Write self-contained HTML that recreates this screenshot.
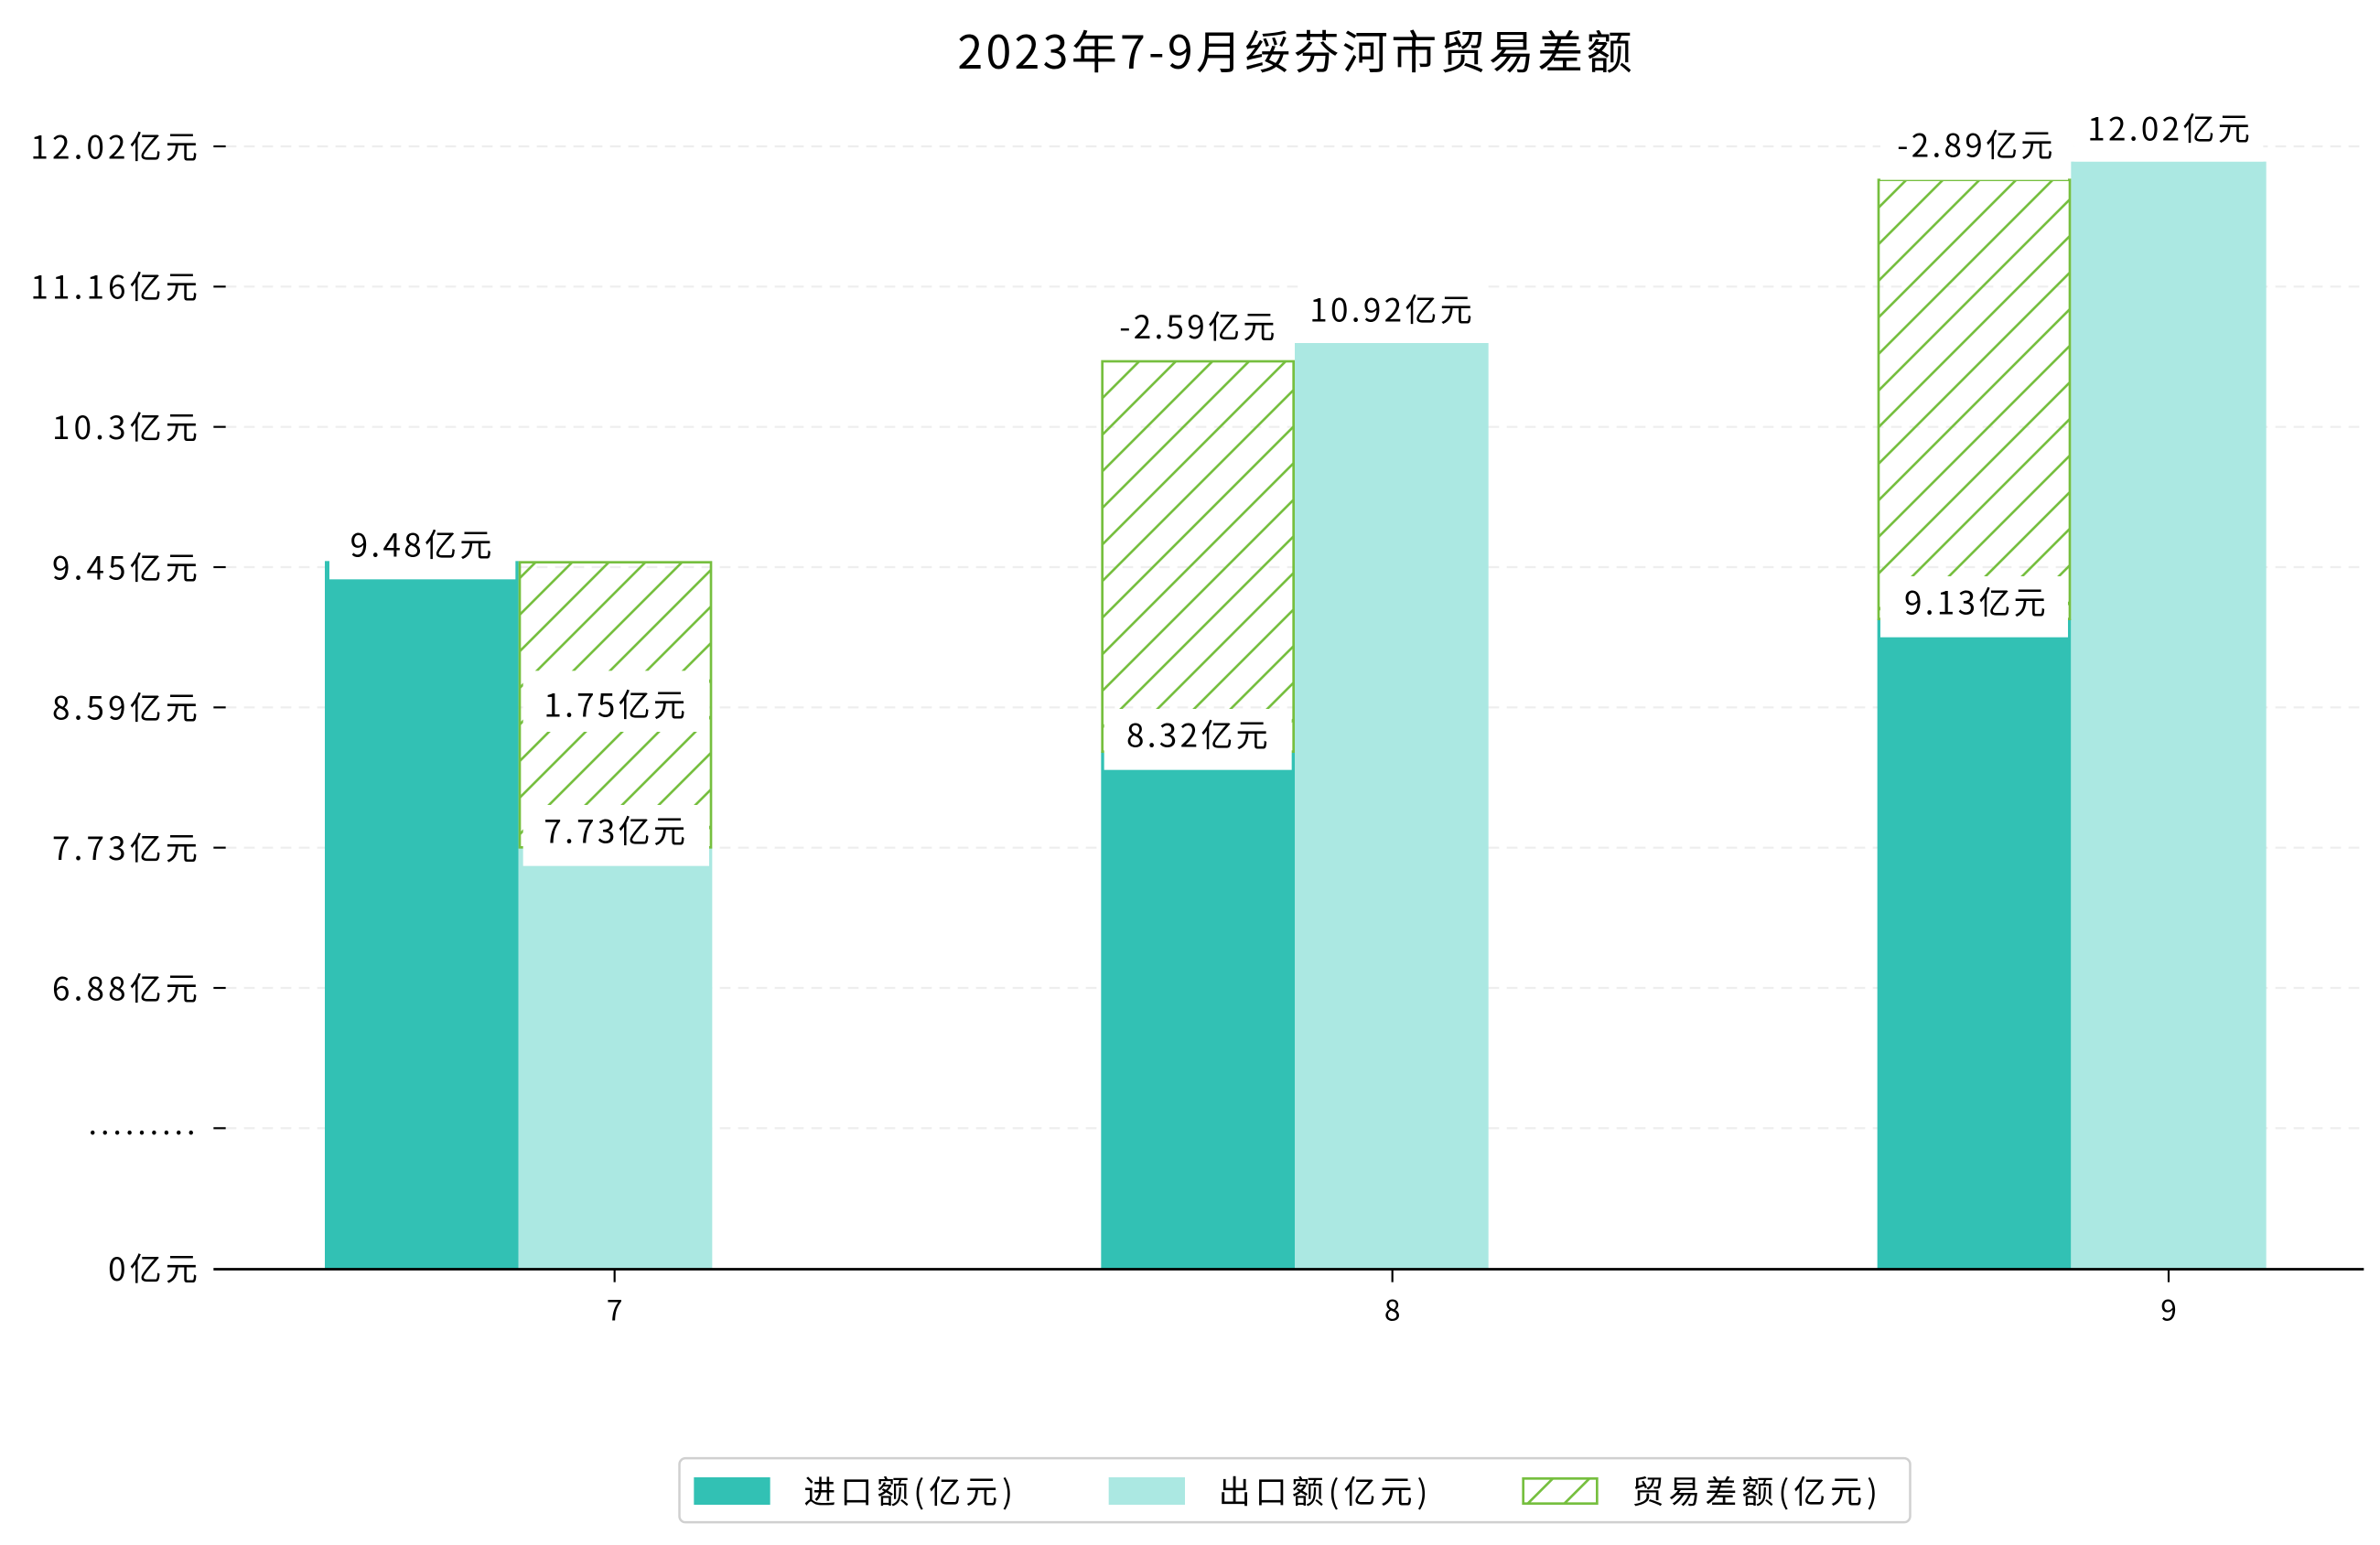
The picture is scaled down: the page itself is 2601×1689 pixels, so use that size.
<!DOCTYPE html>
<html><head><meta charset="utf-8"><style>
html,body{margin:0;padding:0;background:#fff}
svg{display:block}
text{font-family:"WenQuanYi Zen Hei","Noto Sans CJK SC",sans-serif;fill:#000}
</style></head><body>
<svg width="2601" height="1689" viewBox="0 0 1560.6 1013.4" xmlns="http://www.w3.org/2000/svg">
<defs>
<pattern id="h" patternUnits="userSpaceOnUse" width="24" height="24">
<path d="M-6,6 L6,-6 M0,24 L24,0 M18,30 L30,18" stroke="#76bf3f" stroke-width="1.6"/>
</pattern>
</defs>
<rect width="1560.6" height="1013.4" fill="#fff"/>
<text x="850" y="45" font-size="30" letter-spacing="2" text-anchor="middle">2023年7-9月绥芬河市贸易差额</text>
<g stroke="#eeeeee" stroke-width="1.3" stroke-dasharray="7,5">
<line x1="148" x2="1550" y1="96" y2="96"/><line x1="148" x2="1550" y1="188" y2="188"/>
<line x1="148" x2="1550" y1="280" y2="280"/><line x1="148" x2="1550" y1="372" y2="372"/>
<line x1="148" x2="1550" y1="464" y2="464"/><line x1="148" x2="1550" y1="556" y2="556"/>
<line x1="148" x2="1550" y1="648" y2="648"/><line x1="148" x2="1550" y1="740" y2="740"/>
</g>
<g stroke="#000" stroke-width="1.3">
<line x1="140" x2="148" y1="96" y2="96"/><line x1="140" x2="148" y1="188" y2="188"/>
<line x1="140" x2="148" y1="280" y2="280"/><line x1="140" x2="148" y1="372" y2="372"/>
<line x1="140" x2="148" y1="464" y2="464"/><line x1="140" x2="148" y1="556" y2="556"/>
<line x1="140" x2="148" y1="648" y2="648"/><line x1="140" x2="148" y1="740" y2="740"/>
<line x1="403" x2="403" y1="832" y2="841"/><line x1="913" x2="913" y1="832" y2="841"/><line x1="1422" x2="1422" y1="832" y2="841"/>
</g>
<g font-size="21" letter-spacing="2.5" text-anchor="end">
<text x="132" y="104">12.02亿元</text><text x="132" y="196">11.16亿元</text>
<text x="132" y="288">10.3亿元</text><text x="132" y="380">9.45亿元</text>
<text x="132" y="472">8.59亿元</text><text x="132" y="564">7.73亿元</text>
<text x="132" y="656">6.88亿元</text>
<text x="132" y="840">0亿元</text>
</g>
<text x="58" y="744" font-size="20" textLength="70" lengthAdjust="spacing">.........</text>
<g font-size="19" text-anchor="middle">
<text x="403" y="866">7</text><text x="913" y="866">8</text><text x="1422" y="866">9</text>
</g>
<rect x="213" y="368" width="127" height="464" fill="#32c1b4"/>
<rect x="340" y="556" width="127" height="276" fill="#abe8e2"/>
<rect x="340.8" y="368.8" width="125.4" height="187" fill="url(#h)" stroke="#76bf3f" stroke-width="1.6"/>
<rect x="722" y="493" width="127" height="339" fill="#32c1b4"/>
<rect x="849" y="225" width="127" height="607" fill="#abe8e2"/>
<rect x="722.8" y="237" width="125.4" height="256" fill="url(#h)" stroke="#76bf3f" stroke-width="1.6"/>
<rect x="1231" y="406" width="127" height="426" fill="#32c1b4"/>
<rect x="1358" y="106" width="128" height="726" fill="#abe8e2"/>
<rect x="1231.8" y="118" width="125.4" height="288" fill="url(#h)" stroke="#76bf3f" stroke-width="1.6"/>
<g fill="#fff">
<rect x="216" y="340" width="122" height="40"/>
<rect x="343" y="440" width="122" height="40"/>
<rect x="343" y="528" width="122" height="40"/>
<rect x="724" y="465" width="123" height="40"/>
<rect x="724" y="196" width="123" height="40"/>
<rect x="851" y="184" width="123" height="40"/>
<rect x="1233" y="378" width="123" height="40"/>
<rect x="1233" y="78" width="123" height="40"/>
<rect x="1360" y="66" width="124" height="40"/>
</g>
<g font-size="21" letter-spacing="2" text-anchor="middle">
<text x="277" y="365">9.48亿元</text>
<text x="404" y="470">1.75亿元</text>
<text x="404" y="553">7.73亿元</text>
<text x="786" y="490">8.32亿元</text>
<text x="786" y="222">-2.59亿元</text>
<text x="913" y="211">10.92亿元</text>
<text x="1296" y="403">9.13亿元</text>
<text x="1296" y="103">-2.89亿元</text>
<text x="1423" y="92">12.02亿元</text>
</g>
<line x1="140" x2="1550" y1="832.5" y2="832.5" stroke="#000" stroke-width="1.6"/>
<rect x="445.5" y="956.5" width="807" height="42" rx="4" fill="#fff" stroke="#d0d0d0" stroke-width="1.5"/>
<rect x="455" y="969" width="50" height="18" fill="#32c1b4"/>
<text x="527" y="986" font-size="21" letter-spacing="3">进口额(亿元)</text>
<rect x="727" y="969" width="50" height="18" fill="#abe8e2"/>
<text x="799" y="986" font-size="21" letter-spacing="3">出口额(亿元)</text>
<rect x="998.8" y="969.8" width="48.4" height="16.4" fill="#fff" stroke="#76bf3f" stroke-width="1.6"/>
<path d="M1002,986 L1018,970 M1026,986 L1042,970" stroke="#76bf3f" stroke-width="1.6"/>
<text x="1070" y="986" font-size="21" letter-spacing="3">贸易差额(亿元)</text>
</svg>
</body></html>
